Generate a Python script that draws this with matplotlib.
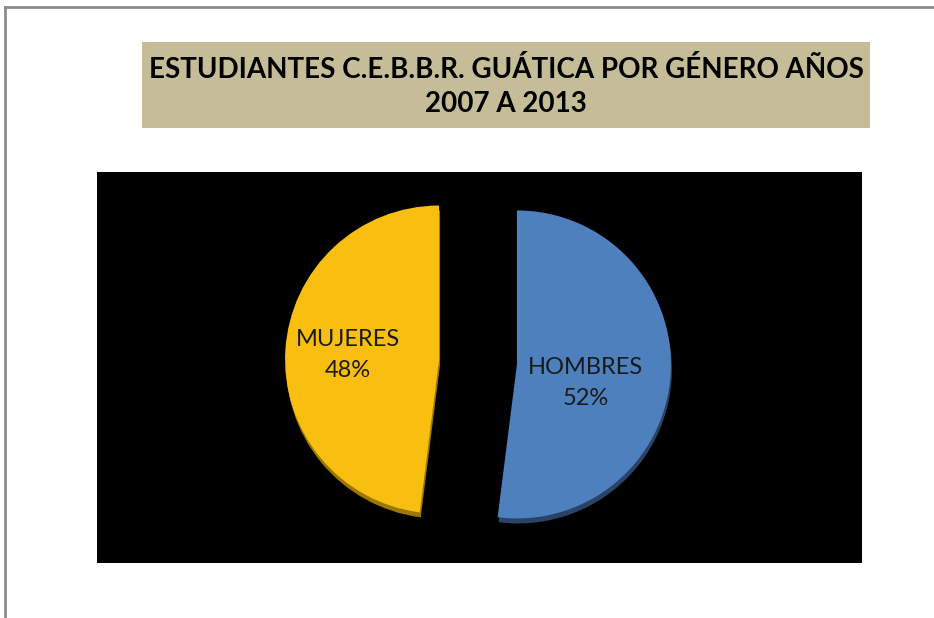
import matplotlib.pyplot as plt
from matplotlib.lines import Line2D
from matplotlib.patches import Rectangle

W, H = 934, 618

categories = ['HOMBRES', 'MUJERES']
percentages = [52, 48]
colors = ['#4e80bd', '#f8be10']
shadow_colors = ['#2a4468', '#9c7700']

title_lines = ['ESTUDIANTES C.E.B.B.R. GUÁTICA POR GÉNERO AÑOS', '2007 A 2013']


def px(x, y):
    # pixel position (from top-left) -> figure fraction
    return x / W, 1 - y / H


fig = plt.figure(figsize=(W / 100, H / 100), dpi=100)
fig.patch.set_facecolor('white')

# outer frame (only top and left edges visible)
fig.add_artist(Line2D([px(5, 0)[0], 1.0], [px(0, 7)[1]] * 2, color='#8c8c8c', lw=2))
fig.add_artist(Line2D([px(5, 0)[0]] * 2, [px(0, 7)[1], 0.0], color='#8c8c8c', lw=2))

# title box
x0, y0 = px(142, 128)
fig.add_artist(Rectangle((x0, y0), (870 - 142) / W, (128 - 42) / H,
                         transform=fig.transFigure, facecolor='#c4bd97', edgecolor='none'))
fig.text(*px(506, 69), title_lines[0], ha='center', va='center',
         fontsize=20, fontweight='bold', family='Lato', color='black')
fig.text(*px(506, 104), title_lines[1], ha='center', va='center',
         fontsize=20, fontweight='bold', family='Lato', color='black')

# black plot area
ax = fig.add_axes([97 / W, 1 - 563 / H, (862 - 97) / W, (563 - 172) / H])
ax.set_facecolor('black')
for s in ax.spines.values():
    s.set_visible(False)

cx, cy, r = 478, H - 362, 154
explode = [39, 39]  # pie offsets are in data units here

# darker rim underneath to mimic the 3-D depth
ax.pie(percentages, colors=shadow_colors, startangle=90, counterclock=False,
       explode=explode, center=(cx + 1, cy - 5), radius=r, frame=True,
       wedgeprops=dict(linewidth=0))
ax.pie(percentages, colors=colors, startangle=90, counterclock=False,
       explode=explode, center=(cx, cy), radius=r, frame=True,
       wedgeprops=dict(linewidth=0))
ax.set_xlim(97, 862)
ax.set_ylim(H - 563, H - 172)
ax.set_xticks([])
ax.set_yticks([])

label_pos = [(586, H - 383), (348, H - 355)]
for name, pct, (lx, ly) in zip(categories, percentages, label_pos):
    ax.text(lx, ly, f'{name}\n{pct}%', ha='center', va='center', fontsize=17,
            family='Lato', color='#1a1a1a', linespacing=1.55)

fig.savefig('out.png', dpi=100, facecolor='white')
